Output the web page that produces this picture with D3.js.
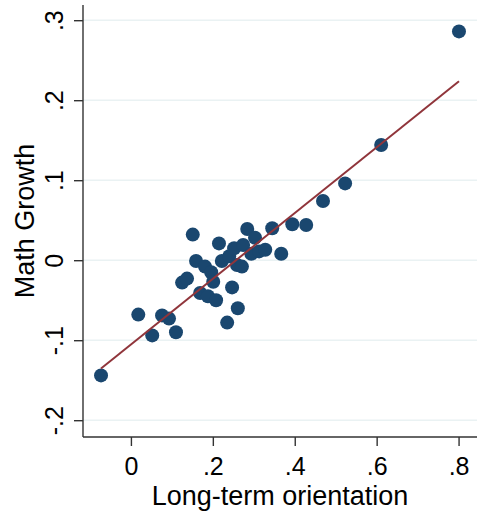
<!DOCTYPE html>
<html>
<head>
<meta charset="utf-8">
<script src="https://cdn.jsdelivr.net/npm/d3@7"></script>
<style>
  html, body { margin: 0; padding: 0; background: #fff; }
  svg { display: block; }
  text { font-family: "Liberation Sans", Arial, Helvetica, sans-serif; fill: #000; }
</style>
</head>
<body>
<svg id="chart" width="481" height="512"></svg>
<script>
// Long-term orientation (x) vs. math growth (y), one point per unit
const orientation = [
  -0.073, 0.018, 0.052, 0.076, 0.093, 0.110, 0.125, 0.137, 0.151, 0.159,
   0.169, 0.181, 0.188, 0.196, 0.201, 0.208, 0.215, 0.222, 0.235, 0.240,
   0.247, 0.252, 0.259, 0.261, 0.271, 0.274, 0.284, 0.294, 0.303, 0.313,
   0.328, 0.345, 0.367, 0.394, 0.428, 0.469, 0.523, 0.611, 0.801
];
const mathGrowth = [
  -0.144, -0.068, -0.094, -0.069, -0.073, -0.090, -0.028, -0.023, 0.032, -0.001,
  -0.041, -0.008, -0.045, -0.015, -0.027, -0.050, 0.021, -0.001, -0.078, 0.005,
  -0.034, 0.015, -0.006, -0.060, -0.008, 0.019, 0.039, 0.008, 0.028, 0.011,
   0.013, 0.040, 0.008, 0.045, 0.044, 0.074, 0.096, 0.144, 0.286
];
const xTicks = [0, 0.2, 0.4, 0.6, 0.8];
const yTicks = [-0.2, -0.1, 0, 0.1, 0.2, 0.3];
const xTitle = "Long-term orientation";
const yTitle = "Math Growth";

// Stata-style tick label: drop the leading zero (".2", "-.1")
const fmt = v => {
  if (Math.abs(v) < 1e-9) return "0";
  return v.toFixed(1).replace(/^(-?)0\./, "$1.");
};

const svg = d3.select("#chart");
const plot = { left: 83, right: 477, top: 5, bottom: 437 };

const x = d3.scaleLinear().domain([-0.117, 0.845]).range([plot.left, plot.right]);
const y = d3.scaleLinear().domain([-0.221, 0.319]).range([plot.bottom, plot.top]);

// horizontal grid lines
svg.append("g")
  .selectAll("line")
  .data(yTicks)
  .join("line")
  .attr("x1", plot.left).attr("x2", plot.right)
  .attr("y1", d => y(d)).attr("y2", d => y(d))
  .attr("stroke", "#eaf2f3")
  .attr("stroke-width", 1.6);

// axes
const xAxis = d3.axisBottom(x).tickValues(xTicks).tickFormat(fmt).tickSize(9).tickSizeOuter(0);
const yAxis = d3.axisLeft(y).tickValues(yTicks).tickFormat(fmt).tickSize(9).tickSizeOuter(0);

const gx = svg.append("g").attr("transform", `translate(0,${plot.bottom})`).call(xAxis);
gx.select(".domain").attr("d", `M${plot.left},0H${plot.right}`);
gx.selectAll("path, line").attr("stroke", "#333").attr("stroke-width", 1.4);
gx.selectAll("text")
  .attr("font-size", 25)
  .attr("y", 38).attr("dy", 0);

const gy = svg.append("g").attr("transform", `translate(${plot.left},0)`).call(yAxis);
gy.select(".domain").attr("d", `M0,${plot.top}V${plot.bottom}`);
gy.selectAll("path, line").attr("stroke", "#333").attr("stroke-width", 1.4);
gy.selectAll(".tick text")
  .attr("font-size", 25)
  .attr("text-anchor", "middle")
  .attr("x", 0).attr("y", 0).attr("dy", 0)
  .attr("transform", "translate(-20,0) rotate(-90)");

// axis titles
svg.append("text")
  .attr("x", (plot.left + plot.right) / 2)
  .attr("y", 505)
  .attr("text-anchor", "middle")
  .attr("font-size", 27)
  .text(xTitle);

svg.append("text")
  .attr("transform", `translate(34,${(plot.top + plot.bottom) / 2}) rotate(-90)`)
  .attr("text-anchor", "middle")
  .attr("font-size", 27)
  .text(yTitle);

// points
const pts = orientation.map((v, i) => ({ x: v, y: mathGrowth[i] }));
svg.append("g")
  .selectAll("circle")
  .data(pts)
  .join("circle")
  .attr("cx", d => x(d.x))
  .attr("cy", d => y(d.y))
  .attr("r", 7)
  .attr("fill", "#1a476f");

// least-squares fit line over the observed x range
const mx = d3.mean(orientation), my = d3.mean(mathGrowth);
const sxy = d3.sum(pts, d => (d.x - mx) * (d.y - my));
const sxx = d3.sum(pts, d => (d.x - mx) ** 2);
const slope = sxy / sxx;
const intercept = my - slope * mx;
const [xmin, xmax] = d3.extent(orientation);
svg.append("line")
  .attr("x1", x(xmin)).attr("y1", y(intercept + slope * xmin))
  .attr("x2", x(xmax)).attr("y2", y(intercept + slope * xmax))
  .attr("stroke", "#90353b")
  .attr("stroke-width", 2);
</script>
</body>
</html>
